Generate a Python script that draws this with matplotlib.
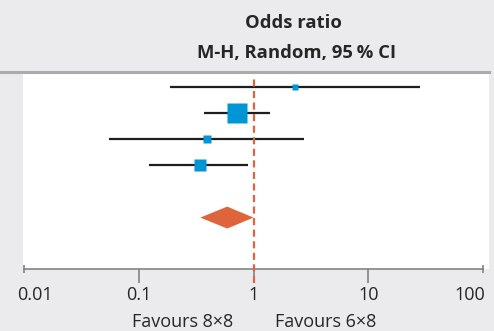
import numpy as np
import matplotlib
matplotlib.use("Agg")
import matplotlib.pyplot as plt
from matplotlib.patches import Polygon
from matplotlib.transforms import blended_transform_factory

# study estimates (odds ratio, 95% CI) and weights (%)
odds = [2.29, 0.72, 0.39, 0.34]
ci_low = [0.186, 0.373, 0.055, 0.124]
ci_high = [28.2, 1.39, 2.74, 0.90]
weights = [5.7, 63.6, 7.8, 22.9]

# pooled estimate
pooled = 0.59
pooled_low = 0.344
pooled_high = 1.0

tick_vals = [0.1, 1, 10]
end_vals = [0.01, 100]
tick_labels = ["0.1", "1", "10"]
end_labels = ["0.01", "100"]

bg = "#ebebed"
blue = "#0096d6"
orange = "#de653b"
txt = "#262626"
axgray = "#838383"
fs = 13

plt.rcParams['font.family'] = ['Open Sans', 'DejaVu Sans']

W, H = 494, 331
fig = plt.figure(figsize=(W / 100, H / 100), dpi=100)
fig.patch.set_facecolor(bg)

ax = fig.add_axes([23 / W, (H - 269) / H, (489 - 23) / W, (269 - 74) / H])
ax.set_facecolor("white")
ax.set_xscale("log")
ax.set_xlim(10 ** -2.0087, 10 ** 2.052)
ax.set_ylim(6.97, -0.5)

rows = np.arange(len(odds))
for i in rows:
    ax.plot([ci_low[i], ci_high[i]], [i, i], color="#1e1e1e", lw=1.6,
            solid_capstyle="butt", zorder=2)
    ms = 14.4 * np.sqrt(weights[i] / max(weights))
    ax.plot(odds[i], i, marker="s", ms=ms, color=blue, mec="none", zorder=3)

# pooled diamond
dy = 5
hh = 0.42
diamond = Polygon([[pooled_low, dy], [pooled, dy - hh], [pooled_high, dy], [pooled, dy + hh]],
                  closed=True, facecolor=orange, edgecolor="none", zorder=3)
ax.add_patch(diamond)

# line of no effect
ax.axvline(1, ymin=-0.072, ymax=0.974, color=orange, lw=1.6, ls=(0, (3.2, 2.0)),
           clip_on=False, zorder=4)

for s in ["top", "right", "left"]:
    ax.spines[s].set_visible(False)
ax.spines["bottom"].set_color(axgray)
ax.spines["bottom"].set_linewidth(1.2)
ax.spines["bottom"].set_bounds(0.01, 100)
ax.set_yticks([])

ax.xaxis.set_major_locator(matplotlib.ticker.FixedLocator(tick_vals))
ax.xaxis.set_major_formatter(matplotlib.ticker.FixedFormatter(tick_labels))
ax.xaxis.set_minor_locator(matplotlib.ticker.FixedLocator(end_vals))
ax.xaxis.set_minor_formatter(matplotlib.ticker.NullFormatter())
ax.tick_params(axis="x", which="major", direction="out", length=10, width=1.2,
               color=axgray, pad=2, labelsize=fs, labelcolor=txt)
ax.tick_params(axis="x", which="minor", direction="inout", length=5.5, width=1.2,
               color=axgray)

tr = blended_transform_factory(ax.transData, ax.transAxes)
# end labels, pulled inward so they stay inside the figure
for v, lab, dx in zip(end_vals, end_labels, [8, -9.5]):
    ax.annotate(lab, xy=(v, 0), xycoords=tr, xytext=(dx, -12), textcoords="offset points",
                ha="center", va="top", fontsize=fs, color=txt)

# favours labels
ax.annotate("Favours 8×8", xy=(1, 0), xycoords=tr, xytext=(-14.5, -38.5),
            textcoords="offset points", ha="right", va="center", fontsize=fs, color=txt)
ax.annotate("Favours 6×8", xy=(1, 0), xycoords=tr, xytext=(15.5, -38.5),
            textcoords="offset points", ha="left", va="center", fontsize=fs, color=txt)

# header
fig.text(293.5 / W, 1 - 23 / H, "Odds ratio", ha="center", va="center",
         fontsize=13.3, fontweight="bold", color=txt)
fig.text(296.5 / W, 1 - 53 / H, "M-H, Random, 95\u2009% CI", ha="center", va="center",
         fontsize=13.3, fontweight="bold", color=txt)
fig.add_artist(plt.Line2D([0, 489 / W], [1 - 72 / H, 1 - 72 / H], color="#ababab", lw=2.2))

fig.savefig("out.png", dpi=100, facecolor=bg)
